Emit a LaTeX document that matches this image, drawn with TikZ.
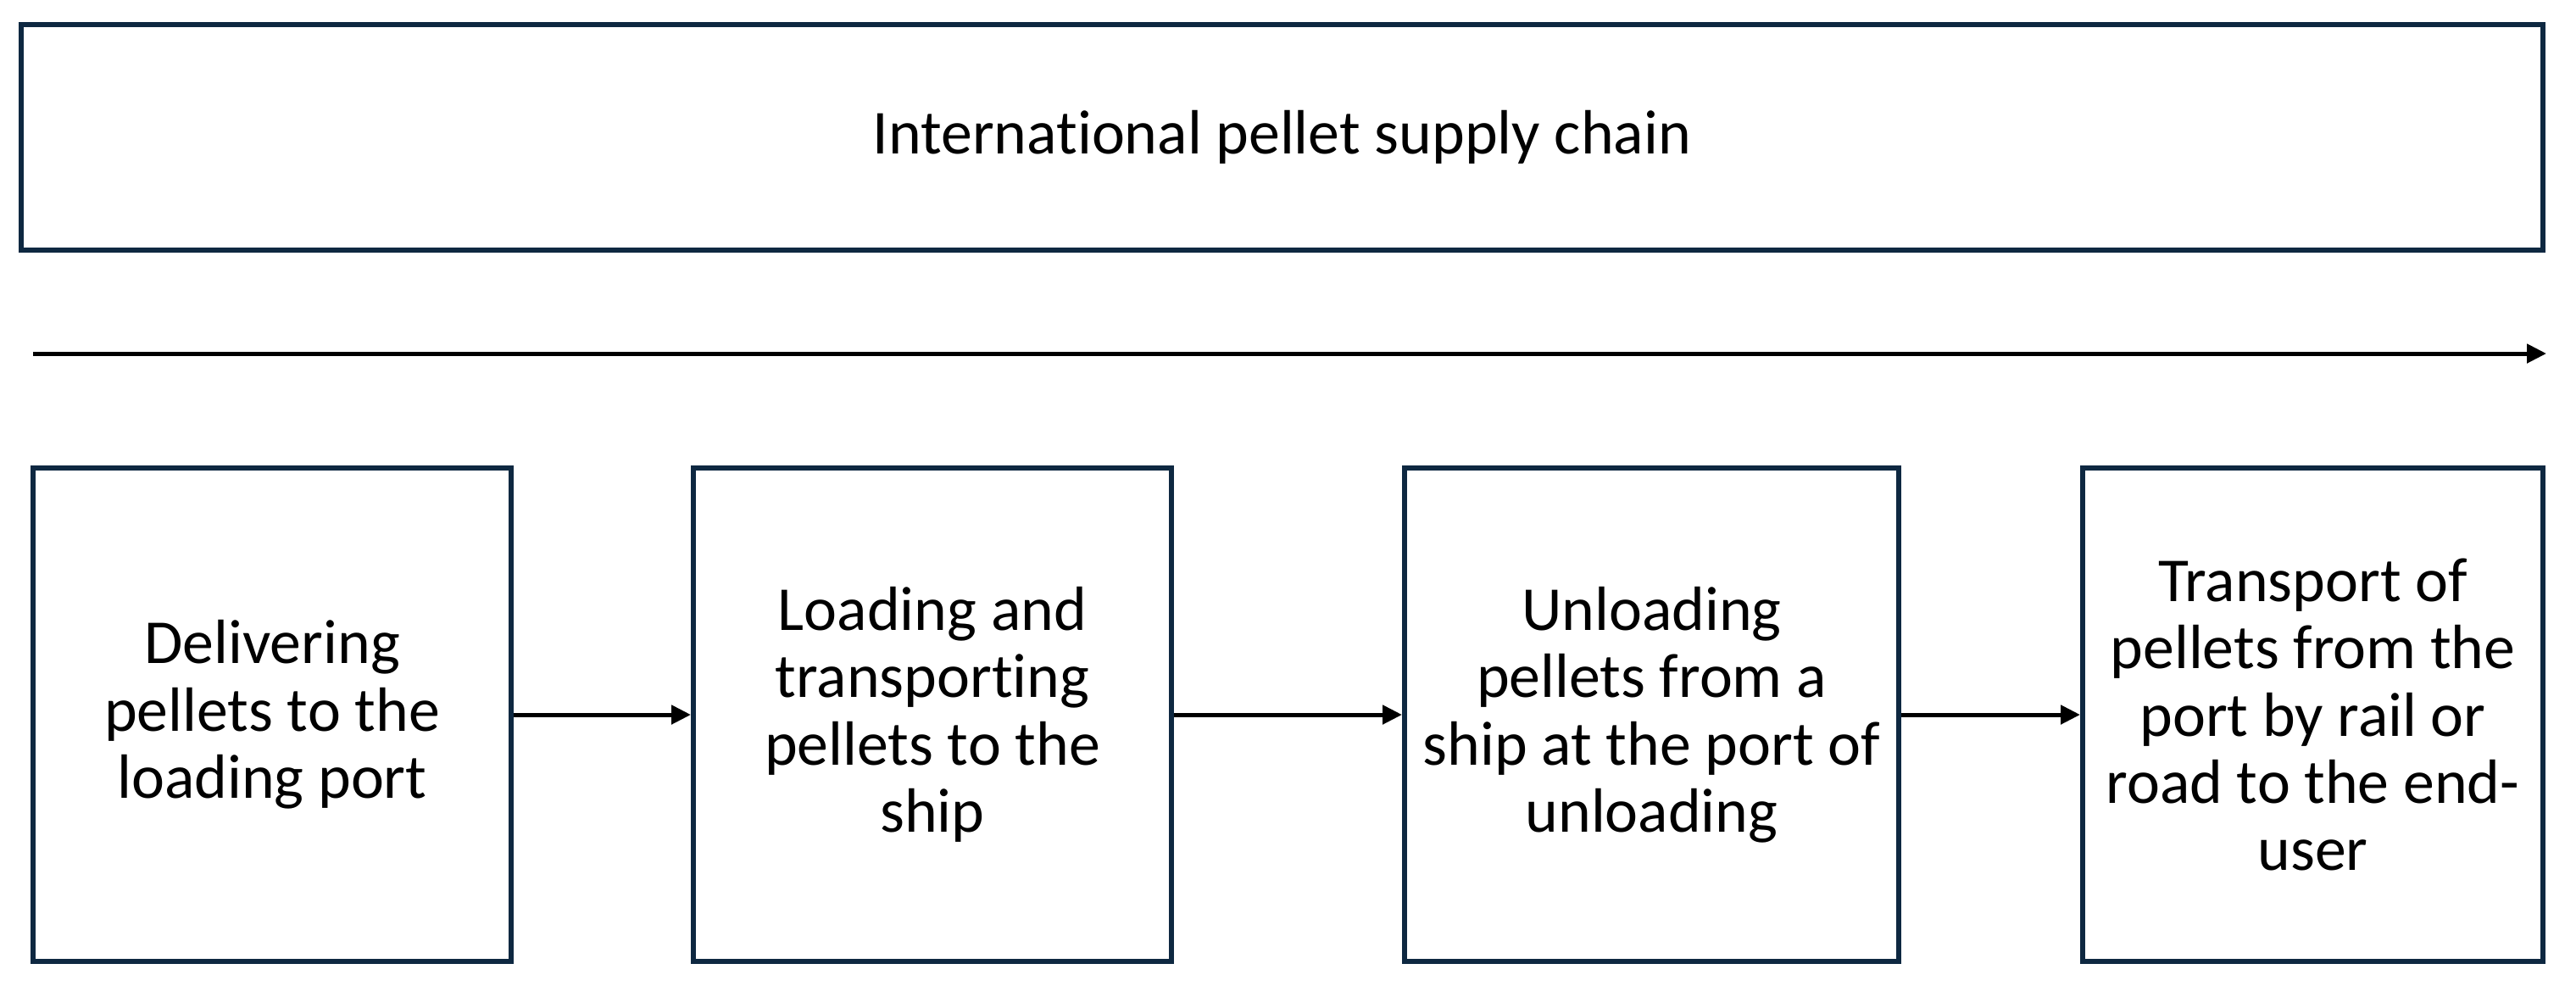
\documentclass[tikz,border=0pt]{standalone}
\usepackage{fontspec}
\setmainfont{Carlito}[Ligatures=NoCommon]
\usetikzlibrary{arrows.meta}
\definecolor{boxc}{HTML}{0E2841}
\begin{document}
\begin{tikzpicture}[x=1cm,y=1cm,
 box/.style={draw=boxc,line width=0.06cm,align=center,font=\fontsize{21}{22.6}\selectfont,inner sep=0pt},
 stepbox/.style={box,minimum height=5.82cm},
 conn/.style={line width=0.05cm,-{Triangle[length=0.23cm,width=0.22cm]}}]
\useasboundingbox (0,0) rectangle (30.39,-11.62);
\node[box,minimum width=29.75cm,minimum height=2.66cm] (title) at (15.125,-1.62) {International pellet supply chain};
\coordinate (as) at (0.39,-4.17);
\coordinate (ae) at (30.04,-4.17);
\draw[conn] (as) -- (ae);
\node[stepbox,minimum width=5.64cm] (b1) at (3.21,-8.43) {Delivering\\pellets to the\\loading port};
\node[stepbox,minimum width=5.64cm] (b2) at (11.0,-8.43) {Loading and\\transporting\\pellets to the\\ship};
\node[stepbox,minimum width=5.83cm] (b3) at (19.485,-8.43) {Unloading\\pellets from a\\ship at the port of\\unloading};
\node[stepbox,minimum width=5.43cm] (b4) at (27.285,-8.43) {Transport of\\pellets from the\\port by rail or\\road to the end-\\user};
\draw[conn] (b1.east) -- (b2.west);
\draw[conn] (b2.east) -- (b3.west);
\draw[conn] (b3.east) -- (b4.west);
\end{tikzpicture}
\end{document}
